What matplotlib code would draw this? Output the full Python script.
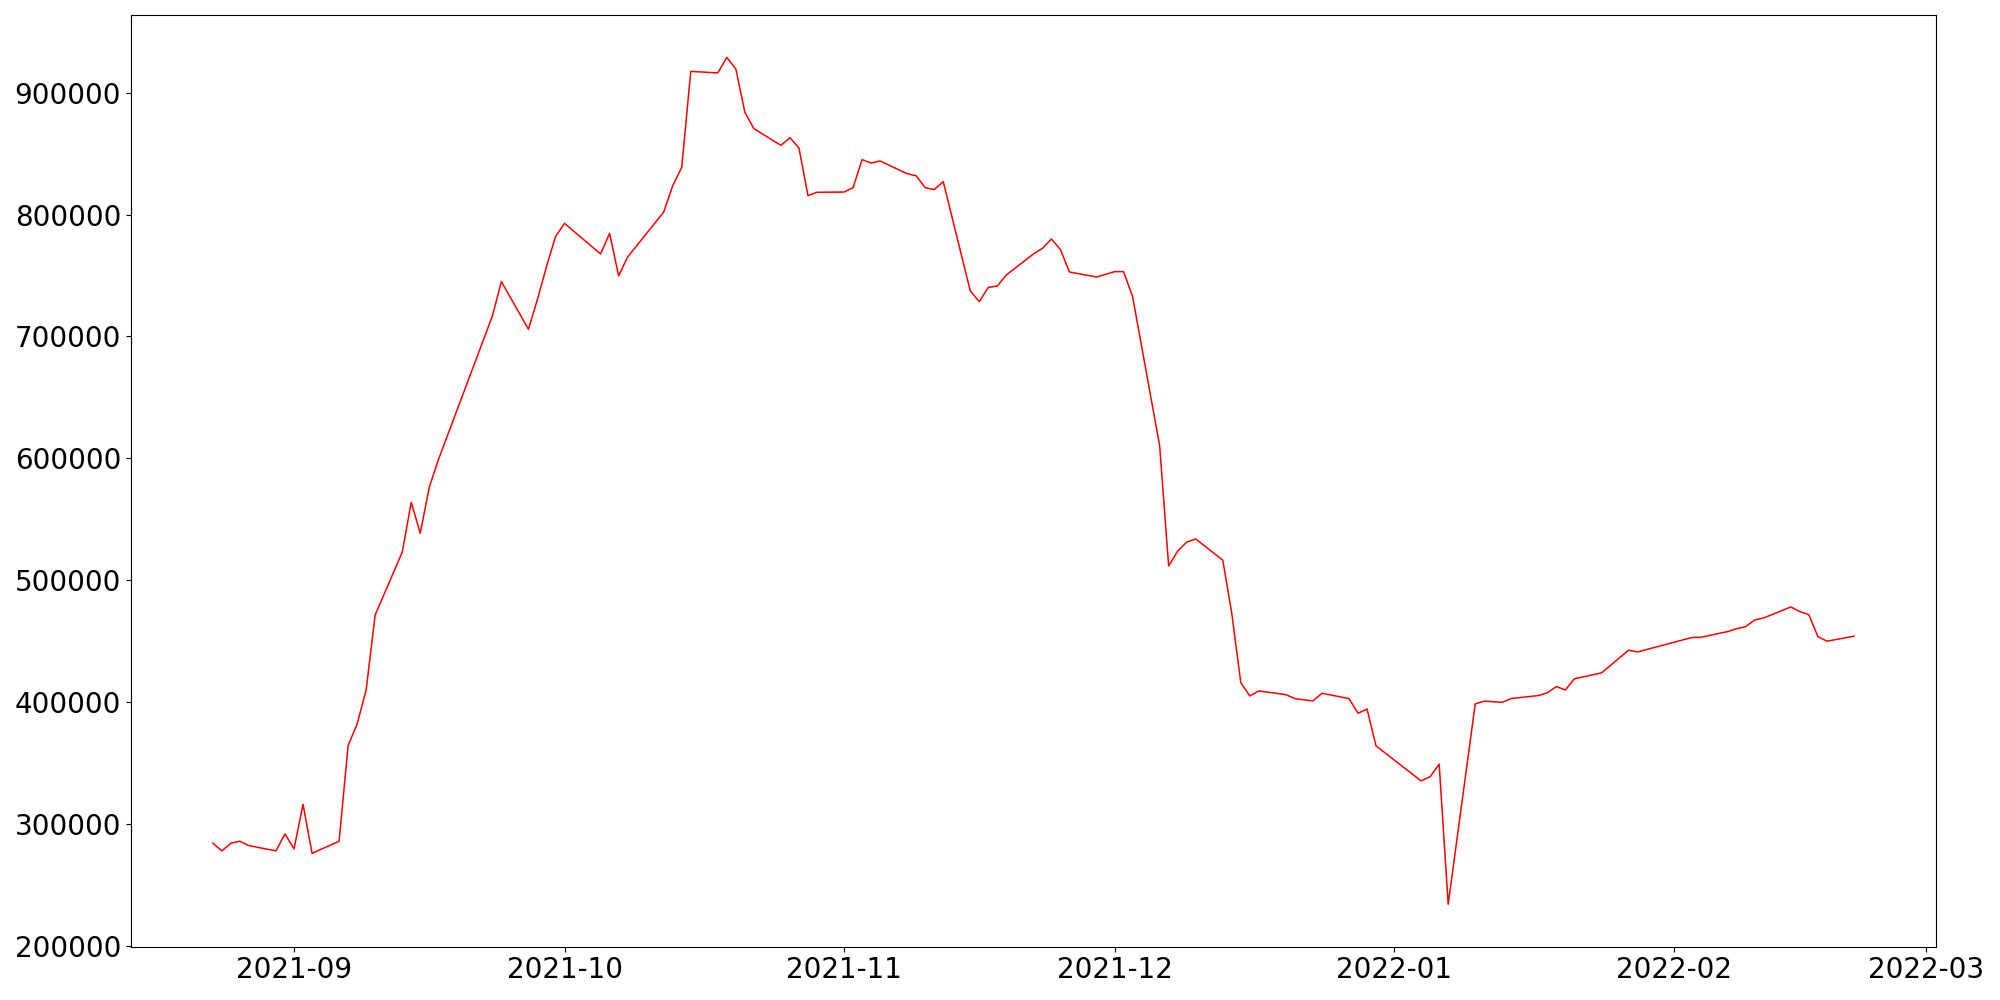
import matplotlib
matplotlib.use("Agg")
import matplotlib.pyplot as plt
import pandas as pd

dates = [
    "2021-08-23", "2021-08-24", "2021-08-25", "2021-08-26", "2021-08-27",
    "2021-08-30", "2021-08-31", "2021-09-01", "2021-09-02", "2021-09-03",
    "2021-09-06", "2021-09-07", "2021-09-08", "2021-09-09", "2021-09-10",
    "2021-09-13", "2021-09-14", "2021-09-15", "2021-09-16", "2021-09-17",
    "2021-09-23", "2021-09-24", "2021-09-27", "2021-09-28", "2021-09-29",
    "2021-09-30", "2021-10-01", "2021-10-05", "2021-10-06", "2021-10-07",
    "2021-10-08", "2021-10-12", "2021-10-13", "2021-10-14", "2021-10-15",
    "2021-10-18", "2021-10-19", "2021-10-20", "2021-10-21", "2021-10-22",
    "2021-10-25", "2021-10-26", "2021-10-27", "2021-10-28", "2021-10-29",
    "2021-11-01", "2021-11-02", "2021-11-03", "2021-11-04", "2021-11-05",
    "2021-11-08", "2021-11-09", "2021-11-10", "2021-11-11", "2021-11-12",
    "2021-11-15", "2021-11-16", "2021-11-17", "2021-11-18", "2021-11-19",
    "2021-11-22", "2021-11-23", "2021-11-24", "2021-11-25", "2021-11-26",
    "2021-11-29", "2021-11-30", "2021-12-01", "2021-12-02", "2021-12-03",
    "2021-12-06", "2021-12-07", "2021-12-08", "2021-12-09", "2021-12-10",
    "2021-12-13", "2021-12-14", "2021-12-15", "2021-12-16", "2021-12-17",
    "2021-12-20", "2021-12-21", "2021-12-23", "2021-12-24", "2021-12-27",
    "2021-12-28", "2021-12-29", "2021-12-30", "2022-01-04", "2022-01-05",
    "2022-01-06", "2022-01-07", "2022-01-10", "2022-01-11", "2022-01-13",
    "2022-01-14", "2022-01-17", "2022-01-18", "2022-01-19", "2022-01-20",
    "2022-01-21", "2022-01-24", "2022-01-27", "2022-01-28", "2022-02-03",
    "2022-02-04", "2022-02-07", "2022-02-08", "2022-02-09", "2022-02-10",
    "2022-02-11", "2022-02-14", "2022-02-15", "2022-02-16", "2022-02-17",
    "2022-02-18", "2022-02-21",
]

values = [
    284300, 278000, 284300, 285900, 282300,
    278000, 291900, 279600, 316200, 276000,
    285900, 364400, 382100, 410000, 471600,
    523000, 564000, 538500, 576300, 598700,
    716800, 745000, 705900, 730500, 757300,
    781900, 792800, 767700, 784600, 749800,
    765200, 802100, 823700, 838800, 917500,
    916200, 929000, 919400, 883900, 870500,
    856800, 863100, 854600, 815500, 818300,
    818500, 822100, 845100, 842300, 844000,
    833500, 831800, 822100, 820500, 827100,
    737300, 728600, 740300, 741400, 750500,
    767700, 772300, 780000, 771200, 752900,
    748800, 751000, 753200, 753200, 732700,
    610400, 511700, 524000, 531300, 533900,
    516500, 472900, 416000, 405100, 409200,
    406200, 402900, 401000, 407300, 402900,
    390900, 394400, 364100, 335400, 338900,
    349100, 234200, 398600, 400800, 399900,
    403000, 405400, 407700, 412800, 410000,
    419200, 424000, 442600, 441200, 453000,
    453200, 457900, 460300, 462000, 467500,
    469100, 478100, 474300, 471800, 453800,
    450000, 454100,
]

x = pd.to_datetime(dates)

fig, ax = plt.subplots(figsize=(20, 10), dpi=100)
ax.plot(x, values, color='red', linewidth=1.1)
ax.tick_params(axis='both', labelsize=20)
plt.subplots_adjust(left=0.0654, right=0.968, top=0.985, bottom=0.0534)
plt.savefig("out.png")
